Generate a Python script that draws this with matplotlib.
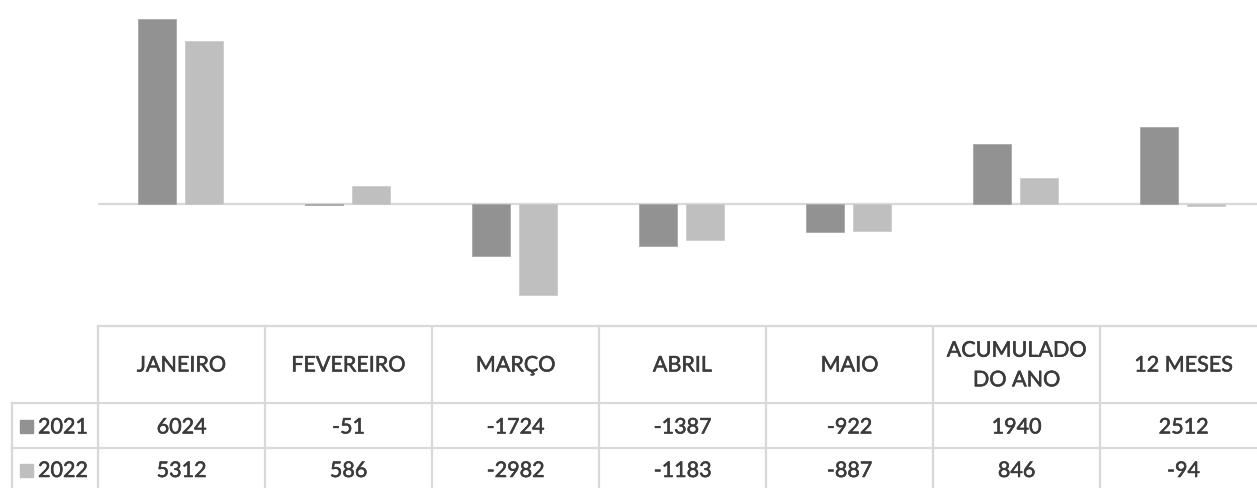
import numpy as np
import matplotlib
matplotlib.use("Agg")
import matplotlib.pyplot as plt
import matplotlib.patheffects as pe
from matplotlib.lines import Line2D
from matplotlib.patches import Rectangle

# dados do gráfico
categorias = ["JANEIRO", "FEVEREIRO", "MARÇO", "ABRIL", "MAIO", "ACUMULADO\nDO ANO", "12 MESES"]
anos = ["2021", "2022"]
valores_2021 = [6024, -51, -1724, -1387, -922, 1940, 2512]
valores_2022 = [5312, 586, -2982, -1183, -887, 846, -94]

cores = ["#929292", "#bfbfbf"]
cor_texto = "#3b3b3b"
cor_linha = "#d9d9d9"

plt.rcParams["font.family"] = ["Lato", "DejaVu Sans"]

W, H = 1257, 488
fig = plt.figure(figsize=(W / 100, H / 100), dpi=100)

# posições em pixels (medidas na imagem)
x0 = 98          # início da primeira coluna
col_w = 167      # largura de cada coluna
zero_px = 203.5  # linha do zero
escala = 0.03058 # px por unidade
ax_bottom_px = 320

n = len(categorias)
ax = fig.add_axes([x0 / W, 1 - ax_bottom_px / H, n * col_w / W, ax_bottom_px / H])
ax.set_xlim(-0.5, n - 0.5)
ax.set_ylim(-(ax_bottom_px - zero_px) / escala, zero_px / escala)

x = np.arange(n)
largura = 0.228
ax.bar(x - 0.145, valores_2021, largura, color=cores[0], edgecolor="#a8a8a8", linewidth=0.6, zorder=2)
ax.bar(x + 0.137, valores_2022, largura, color=cores[1], edgecolor="#cccccc", linewidth=0.6, zorder=2)
ax.axhline(0, color=cor_linha, linewidth=1.6, zorder=1)
ax.axis("off")


# tabela de dados embaixo
def fx(px):
    return px / W


def fy(py):
    return 1 - py / H


topo, lin1, lin2, fundo = 326, 403, 448, 495
esq = 12
kw = dict(color=cor_linha, linewidth=1.6, transform=fig.transFigure)
fig.add_artist(Line2D([fx(x0), 1.02], [fy(topo)] * 2, **kw))
for yy in (lin1, lin2):
    fig.add_artist(Line2D([fx(esq), 1.02], [fy(yy)] * 2, **kw))
fig.add_artist(Line2D([fx(esq)] * 2, [fy(lin1), fy(fundo)], **kw))
for i in range(n + 1):
    xx = x0 + i * col_w
    fig.add_artist(Line2D([fx(xx)] * 2, [fy(topo), fy(fundo)], **kw))

fs = 15.5
# traço fino para engrossar a fonte, parecido com o Calibri do original
grosso = [pe.withStroke(linewidth=0.4, foreground=cor_texto)]
txt = dict(fontsize=fs, color=cor_texto, path_effects=grosso)
for i, cat in enumerate(categorias):
    cx = x0 + col_w * (i + 0.5)
    fig.text(fx(cx), fy((topo + lin1) / 2 + 1), cat, ha="center", va="center",
             linespacing=1.6, **txt)
    fig.text(fx(cx), fy((lin1 + lin2) / 2 + 2), str(valores_2021[i]), ha="center", va="center", **txt)
    fig.text(fx(cx), fy(lin2 + 23), str(valores_2022[i]), ha="center", va="center", **txt)

linhas_y = [(lin1 + lin2) / 2 + 1, lin2 + 22]
for ano, cor, yy in zip(anos, cores, linhas_y):
    fig.add_artist(Rectangle((fx(20), fy(yy + 6.5)), 13 / W, 13 / H, color=cor,
                             transform=fig.transFigure))
    fig.text(fx(38), fy(yy + 1), ano, ha="left", va="center", **txt)

fig.savefig("out.png", dpi=100)
